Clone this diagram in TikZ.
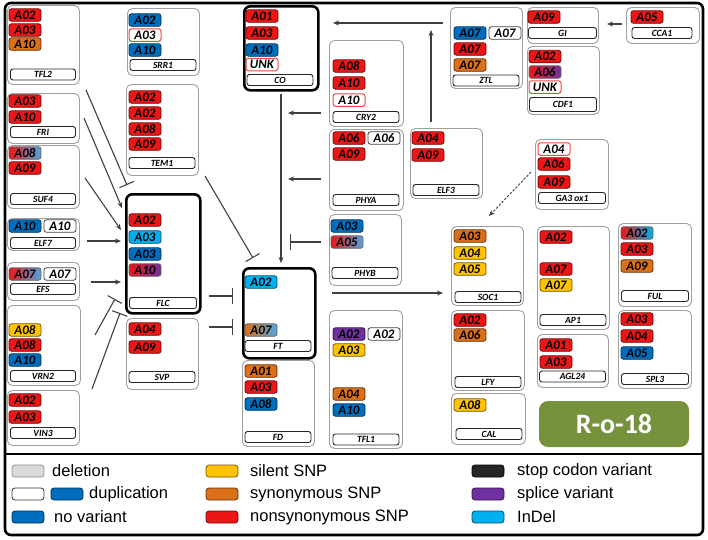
\documentclass[tikz,border=0pt]{standalone}
\usepackage{fontspec}
\setmainfont{Liberation Sans}
\newfontfamily\chipfont{Carlito}
\usetikzlibrary{arrows.meta}

\definecolor{cRed}{RGB}{236,22,22}
\definecolor{cOrange}{RGB}{218,112,24}
\definecolor{cYellow}{RGB}{255,196,0}
\definecolor{cBlue}{RGB}{0,110,190}
\definecolor{cCyan}{RGB}{0,176,240}
\definecolor{cLBlue}{RGB}{80,165,225}
\definecolor{cPurple}{RGB}{112,48,160}
\definecolor{cGray}{RGB}{218,218,218}
\definecolor{cStop}{RGB}{38,38,38}
\definecolor{cGreen}{RGB}{118,146,60}

\tikzset{
  gbox/.style={draw=gray!75, line width=0.9pt, rounded corners=5pt, anchor=north west, inner sep=0pt},
  keybox/.style={draw=black, line width=2.6pt, rounded corners=6pt, anchor=north west, inner sep=0pt},
  chip/.style={rounded corners=2.5pt, line width=0.8pt, minimum width=32, minimum height=12.5, inner sep=0pt,
    font=\chipfont\bfseries\itshape\fontsize{13}{13}\selectfont},
  ns/.style={chip, fill=cRed, draw=cRed!45!black},
  syn/.style={chip, fill=cOrange, draw=cOrange!45!black},
  sil/.style={chip, fill=cYellow, draw=cYellow!45!black},
  nov/.style={chip, fill=cBlue, draw=cBlue!45!black},
  ind/.style={chip, fill=cCyan, draw=cCyan!45!black},
  spl/.style={chip, fill=cPurple, draw=cPurple!45!black},
  dup/.style={chip, fill=white, draw=black!75},
  unk/.style={chip, fill=white, draw=cRed!80, line width=1pt},
  mix/.style 2 args={chip, left color=#1, right color=#2, draw=black!60},
  glbl/.style={draw=black!85, fill=white, line width=0.9pt, rounded corners=2.5pt, minimum height=11, inner sep=0pt,
    font=\chipfont\bfseries\itshape\fontsize{9.5}{9.5}\selectfont},
  act/.style={draw=black!75, line width=1.1pt, -{Stealth[length=6pt,width=5pt]}},
  inh/.style={draw=black!75, line width=1.1pt, -{Bar[width=16pt]}},
  swatch/.style={rounded corners=3pt, line width=0.8pt, minimum width=32, minimum height=12, inner sep=0pt},
  keytxt/.style={anchor=west, inner sep=0pt, font=\fontsize{16.5}{18}\selectfont},
}

\begin{document}
\begin{tikzpicture}[x=1pt,y=-1pt]
\useasboundingbox (0,0) rectangle (708,539);
\draw[line width=2.6pt, rounded corners=6pt] (5,3) rectangle (703,535);
\draw[line width=1.2pt] (5,454) -- (703,454);

% column 1
\node[gbox, minimum width=72, minimum height=79] (tfl2) at (7,5) {};
\node[ns] (tfl2-1) at (25,15) {A02};
\node[ns] (tfl2-2) at (25,30) {A03};
\node[syn] (tfl2-3) at (25,44) {A10};
\node[glbl, minimum width=65] (tfl2-l) at (43,74.5) {TFL2};

\node[gbox, minimum width=72, minimum height=50] (fri) at (7,93) {};
\node[ns] (fri-1) at (25,101) {A03};
\node[ns] (fri-2) at (25,117) {A10};
\node[glbl, minimum width=65] (fri-l) at (43,132) {FRI};

\node[gbox, minimum width=72, minimum height=63] (suf4) at (7,145) {};
\node[mix={cRed}{cLBlue}] (suf4-1) at (25,153) {A08};
\node[ns] (suf4-2) at (25,168) {A09};
\node[glbl, minimum width=65] (suf4-l) at (43,199) {SUF4};

\node[gbox, minimum width=72, minimum height=32] (elf7) at (7,218) {};
\node[nov] (elf7-1) at (25,226) {A10};
\node[dup] (elf7-2) at (60,226) {A10};
\node[glbl, minimum width=65] (elf7-l) at (43,243) {ELF7};

\node[gbox, minimum width=72, minimum height=38] (efs) at (7,262) {};
\node[mix={cRed}{cLBlue}] (efs-1) at (25,274) {A07};
\node[dup] (efs-2) at (60,274) {A07};
\node[glbl, minimum width=65] (efs-l) at (43,289) {EFS};

\node[gbox, minimum width=73, minimum height=80] (vrn2) at (7,305) {};
\node[sil] (vrn2-1) at (25,330) {A08};
\node[ns] (vrn2-2) at (25,345) {A08};
\node[nov] (vrn2-3) at (25,360) {A10};
\node[glbl, minimum width=65] (vrn2-l) at (43,376) {VRN2};

\node[gbox, minimum width=72, minimum height=55] (vin3) at (7,390) {};
\node[ns] (vin3-1) at (25,400) {A02};
\node[ns] (vin3-2) at (25,417) {A03};
\node[glbl, minimum width=65] (vin3-l) at (43,433) {VIN3};

% column 2
\node[gbox, minimum width=72, minimum height=67] (srr1) at (127,8) {};
\node[nov] (srr1-1) at (145,20) {A02};
\node[unk] (srr1-2) at (145,35) {A03};
\node[nov] (srr1-3) at (145,50) {A10};
\node[glbl, minimum width=66] (srr1-l) at (163,65) {SRR1};

\node[gbox, minimum width=72, minimum height=91] (tem1) at (126,84) {};
\node[ns] (tem1-1) at (145,97) {A02};
\node[ns] (tem1-2) at (145,113) {A02};
\node[ns] (tem1-3) at (145,129) {A08};
\node[ns] (tem1-4) at (145,144) {A09};
\node[glbl, minimum width=66] (tem1-l) at (162,163) {TEM1};

\node[keybox, minimum width=74, minimum height=119] (flc) at (125,193) {};
\node[ns] (flc-1) at (145,220) {A02};
\node[ind] (flc-2) at (145,237) {A03};
\node[nov] (flc-3) at (145,254) {A03};
\node[mix={cRed}{cPurple}] (flc-4) at (145,270) {A10};
\node[glbl, minimum width=67] (flc-l) at (163,303) {FLC};

\node[gbox, minimum width=72, minimum height=71] (svp) at (126,318) {};
\node[ns] (svp-1) at (145,329) {A04};
\node[ns] (svp-2) at (145,347) {A09};
\node[glbl, minimum width=66] (svp-l) at (162,377) {SVP};

% column 3
\node[keybox, minimum width=74, minimum height=84] (co) at (243,5) {};
\node[ns] (co-1) at (262,16) {A01};
\node[ns] (co-2) at (262,33) {A03};
\node[nov] (co-3) at (262,50) {A10};
\node[unk] (co-4) at (262,64.5) {UNK};
\node[glbl, minimum width=66] (co-l) at (280,80) {CO};

\node[keybox, minimum width=72, minimum height=90] (ft) at (242,267) {};
\node[ind] (ft-1) at (261,282) {A02};
\node[mix={cOrange}{cLBlue}] (ft-2) at (261,330) {A07};
\node[glbl, minimum width=66] (ft-l) at (278,346) {FT};

\node[gbox, minimum width=72, minimum height=86] (fd) at (242,360) {};
\node[syn] (fd-1) at (261,371) {A01};
\node[ns] (fd-2) at (261,387) {A03};
\node[nov] (fd-3) at (261,404) {A08};
\node[glbl, minimum width=66] (fd-l) at (278,437) {FD};

% column 4
\node[gbox, minimum width=74, minimum height=86] (cry2) at (329,40) {};
\node[ns] (cry2-1) at (349,66) {A08};
\node[ns] (cry2-2) at (349,83) {A10};
\node[unk] (cry2-3) at (349,100) {A10};
\node[glbl, minimum width=66] (cry2-l) at (366,117) {CRY2};

\node[gbox, minimum width=74, minimum height=81] (phya) at (329,129) {};
\node[ns] (phya-1) at (349,138) {A06};
\node[dup] (phya-2) at (384,138) {A06};
\node[ns] (phya-3) at (349,154) {A09};
\node[glbl, minimum width=66] (phya-l) at (366,200) {PHYA};

\node[gbox, minimum width=72, minimum height=71] (phyb) at (329,214) {};
\node[nov] (phyb-1) at (347,226) {A03};
\node[mix={cRed}{cLBlue}] (phyb-2) at (347,242) {A05};
\node[glbl, minimum width=66] (phyb-l) at (365,273) {PHYB};

\node[gbox, minimum width=73, minimum height=138] (tfl1) at (329,310) {};
\node[spl] (tfl1-1) at (349,334) {A02};
\node[dup] (tfl1-2) at (384,334) {A02};
\node[sil] (tfl1-3) at (349,350) {A03};
\node[syn] (tfl1-4) at (349,394) {A04};
\node[nov] (tfl1-5) at (349,410) {A10};
\node[glbl, minimum width=66] (tfl1-l) at (366,439.5) {TFL1};

% right part
\node[gbox, minimum width=72, minimum height=70] (elf3) at (410,128) {};
\node[ns] (elf3-1) at (428,138) {A04};
\node[ns] (elf3-2) at (428,155) {A09};
\node[glbl, minimum width=66] (elf3-l) at (446,190) {ELF3};

\node[gbox, minimum width=72, minimum height=81] (ztl) at (450,7) {};
\node[nov] (ztl-1) at (470,33) {A07};
\node[dup] (ztl-2) at (505,33) {A07};
\node[ns] (ztl-3) at (470,49) {A07};
\node[syn] (ztl-4) at (470,65) {A07};
\node[glbl, minimum width=66] (ztl-l) at (486,80.5) {ZTL};

\node[gbox, minimum width=71, minimum height=36] (gi) at (527,7) {};
\node[ns] (gi-1) at (544,17) {A09};
\node[glbl, minimum width=68] (gi-l) at (562.5,33) {GI};

\node[gbox, minimum width=72, minimum height=68] (cdf1) at (527,46) {};
\node[ns] (cdf1-1) at (545,56.5) {A02};
\node[mix={cRed}{cPurple}] (cdf1-2) at (545,72) {A06};
\node[unk] (cdf1-3) at (545,87) {UNK};
\node[glbl, minimum width=67, minimum height=14] (cdf1-l) at (563,104.5) {CDF1};

\node[gbox, minimum width=73, minimum height=36] (cca1) at (626,7) {};
\node[ns] (cca1-1) at (647,17) {A05};
\node[glbl, minimum width=60] (cca1-l) at (662,33) {CCA1};

\node[gbox, minimum width=73, minimum height=70] (ga3) at (535,139) {};
\node[unk] (ga3-1) at (554,149) {A04};
\node[ns] (ga3-2) at (554,164) {A06};
\node[ns] (ga3-3) at (554,182) {A09};
\node[glbl, minimum width=67] (ga3-l) at (572,198) {GA3 ox1};

\node[gbox, minimum width=72, minimum height=79] (soc1) at (451,226) {};
\node[syn] (soc1-1) at (470,236) {A03};
\node[sil] (soc1-2) at (470,253) {A04};
\node[sil] (soc1-3) at (470,269) {A05};
\node[glbl, minimum width=66] (soc1-l) at (488,297) {SOC1};

\node[gbox, minimum width=73, minimum height=80] (lfy) at (451,310) {};
\node[ns] (lfy-1) at (470,320) {A02};
\node[syn] (lfy-2) at (470,335) {A06};
\node[glbl, minimum width=66] (lfy-l) at (488,382) {LFY};

\node[gbox, minimum width=74, minimum height=51] (cal) at (451,393) {};
\node[sil] (cal-1) at (470,405) {A08};
\node[glbl, minimum width=66] (cal-l) at (489,434) {CAL};

\node[gbox, minimum width=72, minimum height=103] (ap1) at (537,226) {};
\node[ns] (ap1-1) at (556,237) {A02};
\node[ns] (ap1-2) at (556,269) {A07};
\node[sil] (ap1-3) at (556,285) {A07};
\node[glbl, minimum width=66] (ap1-l) at (573,320) {AP1};

\node[gbox, minimum width=71, minimum height=53] (agl24) at (537,334) {};
\node[ns] (agl24-1) at (556,345) {A01};
\node[ns] (agl24-2) at (556,362) {A03};
\node[glbl, minimum width=66] (agl24-l) at (572.5,376.5) {AGL24};

\node[gbox, minimum width=73, minimum height=83] (ful) at (618,223) {};
\node[mix={cRed}{cCyan}] (ful-1) at (637,233) {A02};
\node[ns] (ful-2) at (637,249) {A03};
\node[syn] (ful-3) at (637,266) {A09};
\node[glbl, minimum width=67] (ful-l) at (655,296) {FUL};

\node[gbox, minimum width=73, minimum height=78] (spl3) at (618,310) {};
\node[ns] (spl3-1) at (637,319) {A03};
\node[ns] (spl3-2) at (637,336) {A04};
\node[nov] (spl3-3) at (637,353) {A05};
\node[glbl, minimum width=67] (spl3-l) at (655,379) {SPL3};

\node[fill=cGreen, rounded corners=9pt, minimum width=150, minimum height=46, inner sep=0pt, text=white,
  font=\chipfont\bfseries\fontsize{28}{28}\selectfont] (race) at (614,424) {R-o-18};

% connector ends
\coordinate (tfl2-o) at (86,90);   \coordinate (flc-i1) at (127,185);
\coordinate (fri-o) at (84,118);   \coordinate (flc-i2) at (122,208);
\coordinate (suf4-o) at (85,178);  \coordinate (flc-i3) at (121,230);
\coordinate (elf7-o) at (87,241);  \coordinate (flc-i4) at (121,241);
\coordinate (efs-o) at (91,282);   \coordinate (flc-i5) at (121,282);
\coordinate (vrn2-o) at (95,335);  \coordinate (flc-i6) at (115,299);
\coordinate (vin3-o) at (92,389);  \coordinate (flc-i7) at (120,313);
\coordinate (tem1-o) at (205,176); \coordinate (ft-i1) at (253,258);
\coordinate (flc-o) at (209,296);  \coordinate (ft-i2) at (233,296);
\coordinate (svp-o) at (209,327);  \coordinate (ft-i3) at (233,327);
\coordinate (co-o) at (281,94);    \coordinate (ft-i4) at (281,263);
\coordinate (cry2-o) at (321,113); \coordinate (cof-1) at (288,113);
\coordinate (phya-o) at (321,179); \coordinate (cof-2) at (288,179);
\coordinate (phyb-o) at (321,242); \coordinate (cof-3) at (290,242);
\coordinate (elf3-o) at (431,122); \coordinate (ztl-i) at (431,30);
\coordinate (ztl-o) at (443,23);   \coordinate (co-i) at (333,23);
\coordinate (cca1-o) at (622,24);  \coordinate (gi-i) at (607,24);
\coordinate (ga3-o) at (531,172);  \coordinate (soc1-i1) at (489,216);
\coordinate (ft-o) at (332,293);   \coordinate (soc1-i2) at (443,293);

\draw[inh] (tfl2-o) -- (flc-i1);
\draw[act] (fri-o) -- (flc-i2);
\draw[act] (suf4-o) -- (flc-i3);
\draw[act] (elf7-o) -- (flc-i4);
\draw[act] (efs-o) -- (flc-i5);
\draw[inh] (vrn2-o) -- (flc-i6);
\draw[inh] (vin3-o) -- (flc-i7);
\draw[inh] (tem1-o) -- (ft-i1);
\draw[inh] (flc-o) -- (ft-i2);
\draw[inh] (svp-o) -- (ft-i3);
\draw[act] (co-o) -- (ft-i4);
\draw[act] (cry2-o) -- (cof-1);
\draw[act] (phya-o) -- (cof-2);
\draw[inh] (phyb-o) -- (cof-3);
\draw[act] (elf3-o) -- (ztl-i);
\draw[act] (ztl-o) -- (co-i);
\draw[act] (cca1-o) -- (gi-i);
\draw[act, line width=0.9pt, dash pattern=on 2.5pt off 1.5pt] (ga3-o) -- (soc1-i1);
\draw[act] (ft-o) -- (soc1-i2);

% legend
\node[swatch, fill=cGray, draw=black!45] (k-del) at (28,471) {};
\node[keytxt] (k-del-t) at (52,471) {deletion};
\node[swatch, fill=white, draw=black!80] (k-dup1) at (28,494) {};
\node[swatch, fill=cBlue, draw=cBlue!45!black] (k-dup2) at (67,494) {};
\node[keytxt] (k-dup-t) at (89,494) {duplication};
\node[swatch, fill=cBlue, draw=cBlue!45!black] (k-nov) at (28,517) {};
\node[keytxt] (k-nov-t) at (54,517) {no variant};

\node[swatch, fill=cYellow, draw=cYellow!45!black] (k-sil) at (222,471) {};
\node[keytxt] (k-sil-t) at (250,471) {silent SNP};
\node[swatch, fill=cOrange, draw=cOrange!45!black] (k-syn) at (222,494) {};
\node[keytxt] (k-syn-t) at (250,494) {synonymous SNP};
\node[swatch, fill=cRed, draw=cRed!45!black] (k-ns) at (222,517) {};
\node[keytxt] (k-ns-t) at (250,517) {nonsynonymous SNP};

\node[swatch, fill=cStop, draw=black] (k-stop) at (488,471) {};
\node[keytxt] (k-stop-t) at (517,471) {stop codon variant};
\node[swatch, fill=cPurple, draw=cPurple!45!black] (k-spl) at (488,494) {};
\node[keytxt] (k-spl-t) at (517,494) {splice variant};
\node[swatch, fill=cCyan, draw=cCyan!45!black] (k-ind) at (488,517) {};
\node[keytxt] (k-ind-t) at (517,517) {InDel};
\end{tikzpicture}
\end{document}
